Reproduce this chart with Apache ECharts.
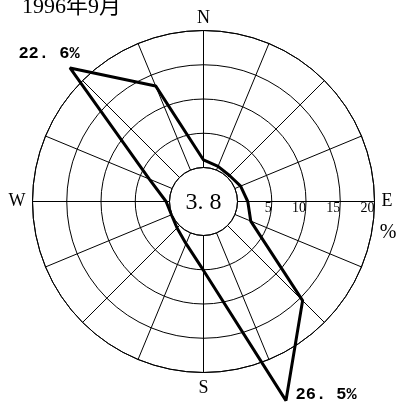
<!DOCTYPE html>
<html>
<head>
<meta charset="utf-8">
<script src="https://cdn.jsdelivr.net/npm/echarts@6/dist/echarts.min.js"></script>
<style>
  html, body { margin: 0; padding: 0; background: #fff; }
  #chart { width: 398px; height: 403px; }
</style>
</head>
<body>
<div id="chart"></div>
<script>
// wind directions, clockwise starting from E (radius axis lies along E)
var directions = ['E', 'ESE', 'SE', 'SSE', 'S', 'SSW', 'SW', 'WSW', 'W', 'WNW', 'NW', 'NNW', 'N', 'NNE', 'NE', 'ENE']
// frequency, %
var frequency = [1.5, 2.5, 15.5, 26.5, 5.1, 1.7, 0.5, 0.1, 0.5, 3.6, 22.6, 13.3, 1.1, 0.6, 0.4, 0.9]
var radiusTicks = [0, 5, 10, 15, 20]
var calm = 3.8
var title = '1996年9月'

var labelPos = {
  NW: { position: 'top', offset: [-21, 0] },
  SSE: { position: 'right', offset: [4, -6] }
}

// cardinal label nudges (outward padding) so all sit the same distance off the ring
var cardinalPad = { N: [0, 0, 0, 0], E: [0, 0, 0, 4], S: [4, 0, 0, 0], W: [0, 4, 0, 0] }

function pct (v) {
  return v.toFixed(1).replace('.', '. ') + '%'
}

var step = 360 / directions.length
var seriesData = directions.map(function (d, i) {
  var item = { name: d, value: [frequency[i], i * step] }
  if (labelPos[d]) {
    item.label = Object.assign({ show: true }, labelPos[d])
  }
  return item
})
// close the polygon
seriesData.push({ name: directions[0], value: [frequency[0], 360] })

var center = [203.5, 201.5]
var inner = 34
var outer = 171
var rMax = radiusTicks[radiusTicks.length - 1]
// second (invisible) polar with the same scale but more room, so peaks past 20% are not cut
var dataMax = 30
var pxPer = (outer - inner) / rMax

var rich = {}
Object.keys(cardinalPad).forEach(function (k) {
  rich[k] = { padding: cardinalPad[k], fontFamily: 'Liberation Serif', fontSize: 18, color: '#000' }
})

var hiddenAxis = {
  axisLine: { show: false },
  axisTick: { show: false },
  axisLabel: { show: false },
  splitLine: { show: false }
}

var myChart = echarts.init(document.getElementById('chart'))
var option = {
  backgroundColor: '#fff',
  animation: false,
  polar: [
    { center: center, radius: [inner, outer] },
    { center: center, radius: [inner, inner + dataMax * pxPer] }
  ],
  angleAxis: [
    {
      polarIndex: 0,
      type: 'value',
      min: 0,
      max: 360,
      interval: step,
      startAngle: 0,
      clockwise: true,
      axisLine: { show: true, lineStyle: { color: '#000', width: 1 } },
      axisTick: { show: false },
      splitLine: { show: true, lineStyle: { color: '#000', width: 1 } },
      axisLabel: {
        margin: 3,
        rich: rich,
        formatter: function (v) {
          if (v >= 360) return ''
          var d = directions[Math.round(v / step)]
          return d.length === 1 ? '{' + d + '|' + d + '}' : ''
        }
      }
    },
    Object.assign({
      polarIndex: 1,
      type: 'value',
      min: 0,
      max: 360,
      interval: step,
      startAngle: 0,
      clockwise: true
    }, hiddenAxis)
  ],
  radiusAxis: [
    {
      polarIndex: 0,
      type: 'value',
      min: radiusTicks[0],
      max: rMax,
      interval: radiusTicks[1] - radiusTicks[0],
      axisLine: { show: false },
      axisTick: { show: false },
      splitLine: { show: true, lineStyle: { color: '#000', width: 1 } },
      axisLabel: {
        margin: 0,
        align: 'right',
        verticalAlign: 'top',
        color: '#000',
        fontFamily: 'Liberation Serif',
        fontSize: 14,
        formatter: function (v) { return v === 0 ? '' : v }
      }
    },
    Object.assign({
      polarIndex: 1,
      type: 'value',
      min: 0,
      max: dataMax
    }, hiddenAxis)
  ],
  series: [
    {
      type: 'line',
      coordinateSystem: 'polar',
      polarIndex: 1,
      clip: false,
      symbol: 'circle',
      symbolSize: 1,
      itemStyle: { color: '#000' },
      lineStyle: { color: '#000', width: 3 },
      label: {
        show: false,
        color: '#000',
        fontFamily: 'Liberation Mono',
        fontWeight: 'bold',
        fontSize: 17,
        formatter: function (p) { return pct(p.value[0]) }
      },
      data: seriesData
    }
  ],
  graphic: [
    {
      type: 'text',
      x: 22, y: 7.5,
      style: { text: title, fill: '#000', font: '22px "Liberation Serif", "Noto Sans CJK SC"', textVerticalAlign: 'middle' }
    },
    {
      type: 'text',
      x: center[0], y: center[1] + 1.5,
      style: {
        text: pct(calm).replace('%', ''),
        fill: '#000',
        font: '24px "Liberation Serif", serif',
        textAlign: 'center',
        textVerticalAlign: 'middle'
      }
    },
    {
      type: 'text',
      x: 388, y: 233,
      style: { text: '%', fill: '#000', font: '20px "Liberation Serif"', textAlign: 'center', textVerticalAlign: 'middle' }
    }
  ]
}
myChart.setOption(option)
</script>
</body>
</html>
